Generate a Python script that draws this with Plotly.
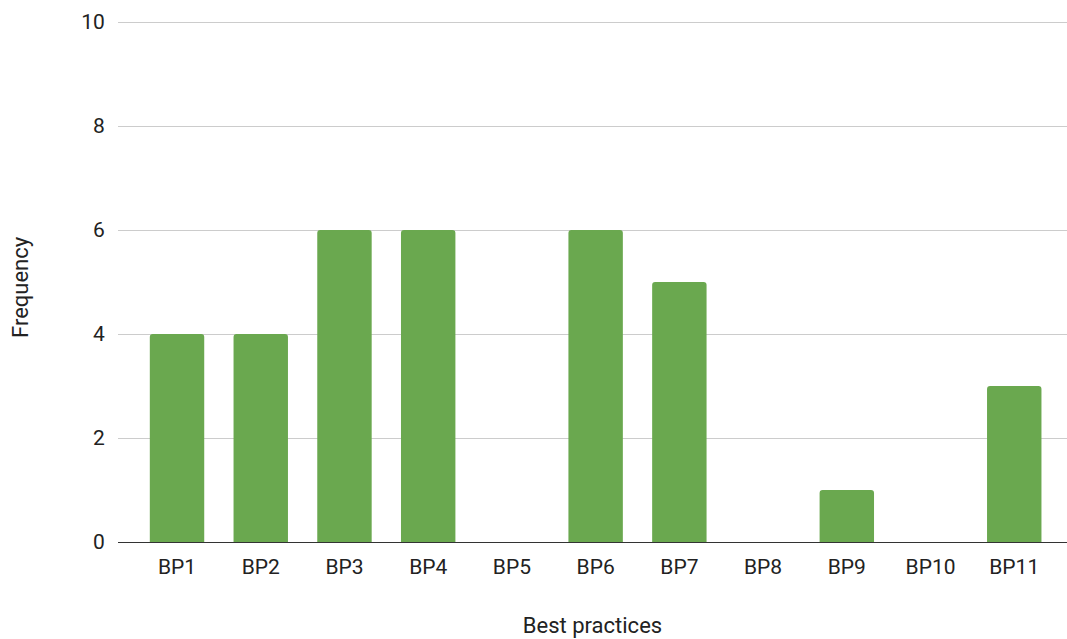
import plotly.graph_objects as go

# Frequency of each best practice
practices = ["BP1", "BP2", "BP3", "BP4", "BP5", "BP6", "BP7", "BP8", "BP9", "BP10", "BP11"]
frequency = [4, 4, 6, 6, 0, 6, 5, 0, 1, 0, 3]
y_ticks = [0, 2, 4, 6, 8, 10]

fig = go.Figure(
    go.Bar(
        x=practices,
        y=frequency,
        marker=dict(color="#6aa84f", line=dict(width=0), cornerradius=3),
        hoverinfo="x+y",
    )
)

font_family = "Roboto, Arial, sans-serif"
text_color = "#222222"
tick_size = 21
title_size = 22

fig.update_layout(
    width=1067,
    height=639,
    margin=dict(l=118, r=0, t=20, b=97),
    paper_bgcolor="white",
    plot_bgcolor="white",
    bargap=0.35,
    showlegend=False,
    font=dict(family=font_family, size=tick_size, color=text_color),
    annotations=[
        dict(
            text="Frequency",
            textangle=-90,
            xref="paper",
            yref="paper",
            x=0,
            y=0.4885,
            xshift=-98,
            xanchor="center",
            yanchor="middle",
            showarrow=False,
            font=dict(size=title_size, color=text_color),
        )
    ],
)

fig.update_xaxes(
    range=[-0.705, 10.63],
    showgrid=False,
    showline=False,
    ticks="outside",
    ticklen=6,
    tickcolor="rgba(0,0,0,0)",
    tickfont=dict(size=tick_size, color=text_color),
    title=dict(text="Best practices", font=dict(size=title_size, color=text_color), standoff=39),
)

# slightly extended top so the gridline at 10 is drawn
fig.update_yaxes(
    range=[0, 10.04],
    tickvals=y_ticks,
    showgrid=True,
    gridcolor="#cccccc",
    gridwidth=1,
    zeroline=True,
    zerolinecolor="#333333",
    zerolinewidth=1,
    showline=False,
    ticks="outside",
    ticklen=8,
    tickcolor="rgba(0,0,0,0)",
    tickfont=dict(size=tick_size, color=text_color),
)

fig.write_html("out.html")
